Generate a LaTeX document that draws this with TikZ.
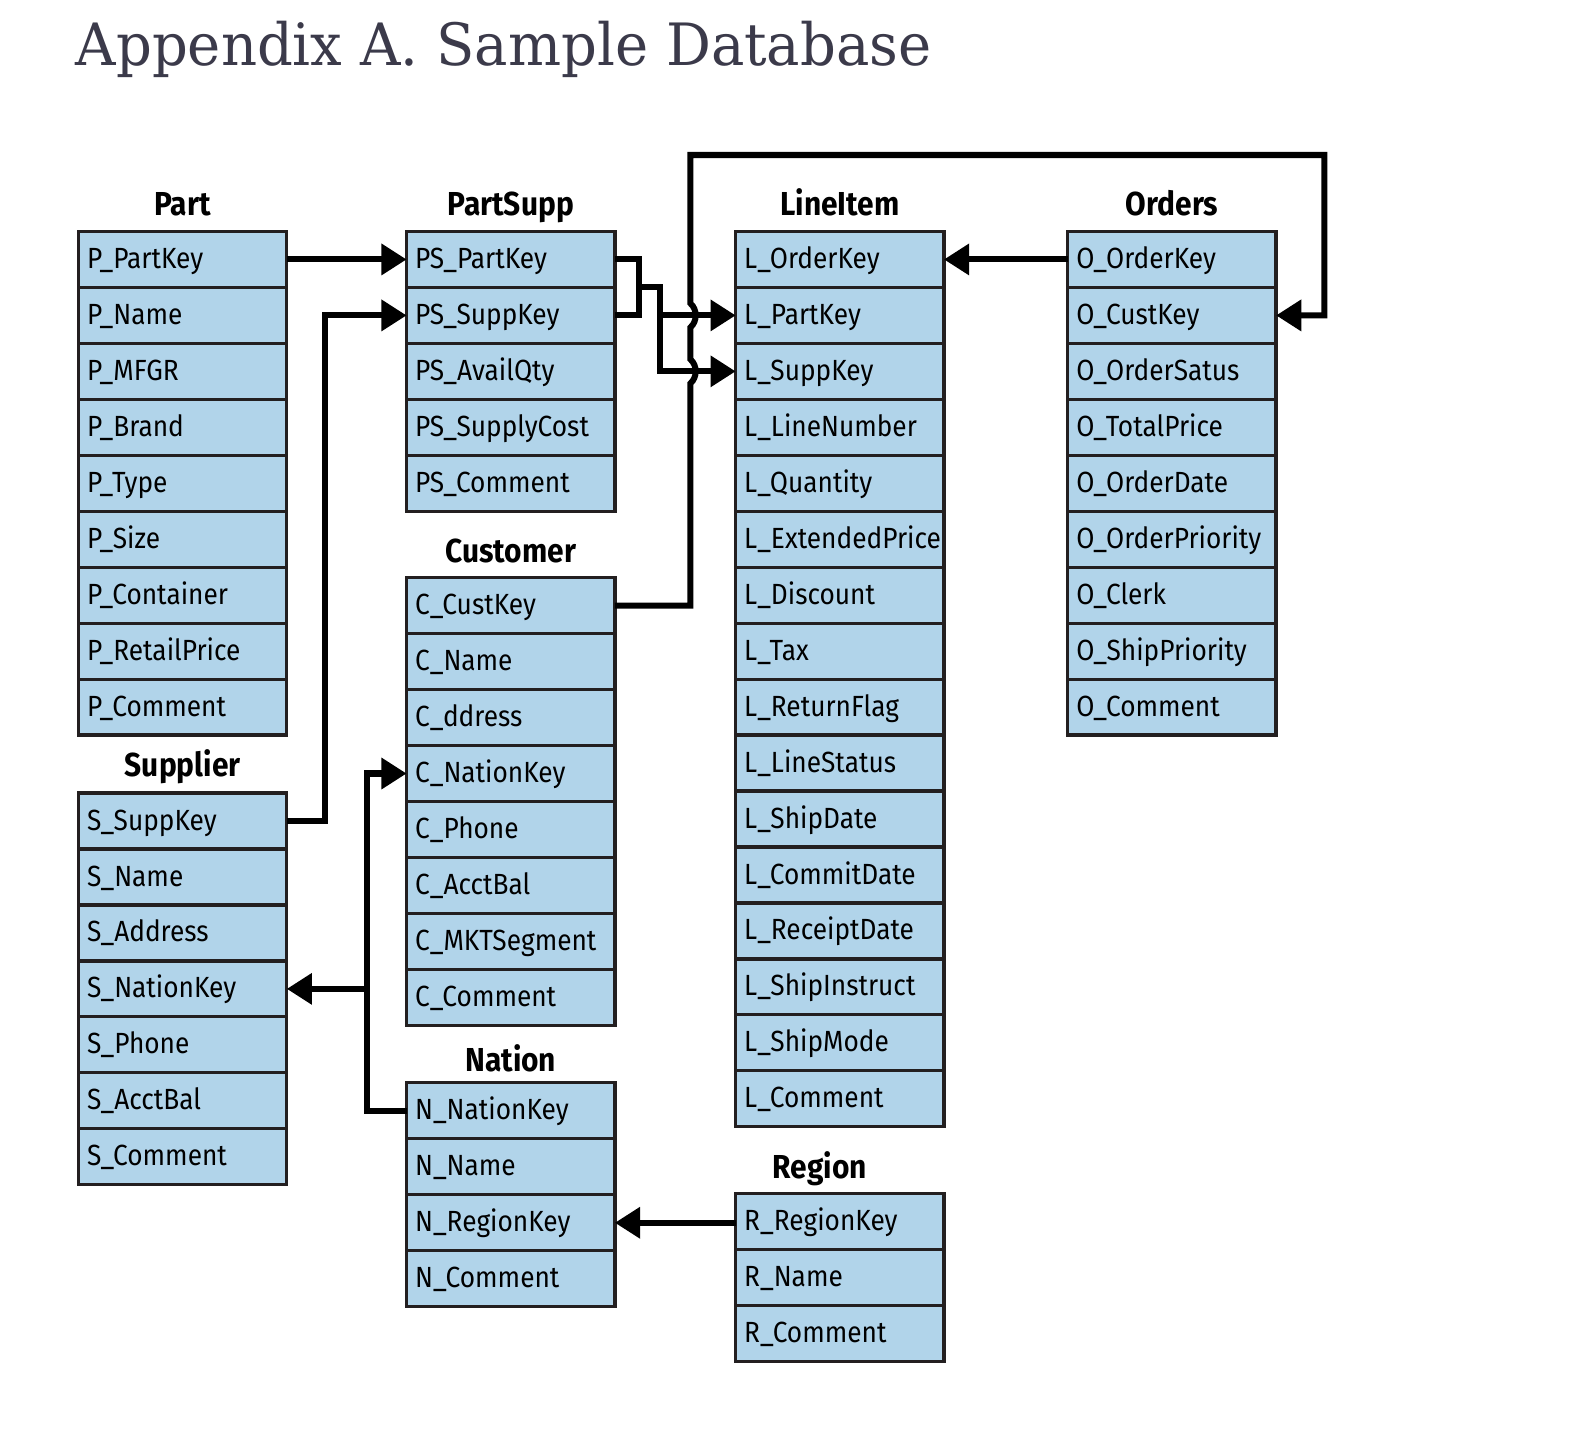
\documentclass[tikz,border=0pt]{standalone}
\usepackage{fontspec}
\setmainfont{Fira Sans}
\newfontfamily\dbfont[FakeStretch=0.9]{Fira Sans}
\newfontfamily\headfont[FakeStretch=0.96]{DejaVu Serif}
\usetikzlibrary{arrows.meta, positioning, calc}
\definecolor{dbBlue}{HTML}{B1D4EA}
\definecolor{dbLine}{HTML}{231F20}
\definecolor{titleInk}{HTML}{3B3A4A}
\tikzset{
  field/.style={rectangle, draw=dbLine, fill=dbBlue, line width=3.2pt,
                outer sep=0pt, minimum height=55.6pt, text width=190pt,
                text height=22pt, text depth=4pt,
                inner xsep=8.5pt, align=left, anchor=north west,
                font=\dbfont\fontsize{29}{33}\selectfont},
  tabTitle/.style={anchor=base, inner sep=0pt,
                   font=\dbfont\bfseries\fontsize{33}{37}\selectfont},
  arrowK/.style={-{Triangle[length=25pt, width=30pt]}, line width=6pt, black},
  linkK/.style={line width=6pt, black},
}
\begin{document}
\begin{tikzpicture}[x=1pt, y=-1pt]
  \useasboundingbox (0,0) rectangle (1568,1435);
  \node[anchor=base west, inner sep=0pt, text=titleInk,
        font=\headfont\fontsize{58}{64}\selectfont] (apxTitle) at (75,65)
        {Appendix A. Sample Database};

  % tables
  \foreach \f [count=\i] in {P\_PartKey, P\_Name, P\_MFGR, P\_Brand, P\_Type,
      P\_Size, P\_Container, P\_RetailPrice, P\_Comment}
    \node[field] (part-\i) at (78,{230+55.6*(\i-1)}) {\f};
  \foreach \f [count=\i] in {S\_SuppKey, S\_Name, S\_Address, S\_NationKey,
      S\_Phone, S\_AcctBal, S\_Comment}
    \node[field] (sup-\i) at (78,{788+55.6*(\i-1)}) {\f};
  \foreach \f [count=\i] in {PS\_PartKey, PS\_SuppKey, PS\_AvailQty,
      PS\_SupplyCost, PS\_Comment}
    \node[field] (ps-\i) at (404,{230+55.6*(\i-1)}) {\f};
  \foreach \f [count=\i] in {C\_CustKey, C\_Name, C\_ddress, C\_NationKey,
      C\_Phone, C\_AcctBal, C\_MKTSegment, C\_Comment}
    \node[field] (cust-\i) at (404,{574+55.6*(\i-1)}) {\f};
  \foreach \f [count=\i] in {N\_NationKey, N\_Name, N\_RegionKey, N\_Comment}
    \node[field] (nat-\i) at (404,{1076+55.6*(\i-1)}) {\f};
  \foreach \f [count=\i] in {L\_OrderKey, L\_PartKey, L\_SuppKey, L\_LineNumber,
      L\_Quantity, L\_ExtendedPrice, L\_Discount, L\_Tax, L\_ReturnFlag,
      L\_LineStatus, L\_ShipDate, L\_CommitDate, L\_ReceiptDate,
      L\_ShipInstruct, L\_ShipMode, L\_Comment}
    \node[field] (li-\i) at (731,{230+55.6*(\i-1)}) {\f};
  \foreach \f [count=\i] in {R\_RegionKey, R\_Name, R\_Comment}
    \node[field] (reg-\i) at (731,{1186+55.6*(\i-1)}) {\f};
  \foreach \f [count=\i] in {O\_OrderKey, O\_CustKey, O\_OrderSatus,
      O\_TotalPrice, O\_OrderDate, O\_OrderPriority, O\_Clerk,
      O\_ShipPriority, O\_Comment}
    \node[field] (ord-\i) at (1061,{230+55.6*(\i-1)}) {\f};

  % table titles
  \node[tabTitle] (partT) at ([yshift=16pt]part-1.north) {Part};
  \node[tabTitle] (psT) at ([yshift=16pt]ps-1.north) {PartSupp};
  \node[tabTitle] (liT) at ([yshift=16pt]li-1.north) {LineItem};
  \node[tabTitle] (ordT) at ([yshift=16pt]ord-1.north) {Orders};
  \node[tabTitle] (custT) at ([yshift=15pt]cust-1.north) {Customer};
  \node[tabTitle] (supT) at ([yshift=16pt]sup-1.north) {Supplier};
  \node[tabTitle] (natT) at ([yshift=11pt]nat-1.north) {Nation};
  \node[tabTitle] (regT) at ([xshift=-20pt, yshift=15pt]reg-1.north) {Region};

  % keys
  \coordinate (psJoin) at ([xshift=24pt]ps-1.south east);
  \coordinate (psFork) at ([xshift=45pt]ps-1.south east);
  \coordinate (loopTL) at (686,154);
  \coordinate (loopTR) at (1316,154);
  \draw[arrowK] (part-1.east) -- (ps-1.west);
  \draw[arrowK] (sup-1.east) -- ++(38,0) |- (ps-2.west);
  \draw[linkK] (ps-1.east) -| (psJoin) |- (ps-2.east);
  \draw[arrowK] (psJoin) -- (psFork) |- (li-3.west);
  \draw[arrowK] (psFork |- li-2.west) -- (li-2.west);
  \draw[arrowK] (ord-1.west) -- (li-1.east);
  \draw[arrowK] (cust-1.east) -| ($(loopTL |- li-3.west)+(0,12)$)
    .. controls +(7,-6) and +(7,6) .. ++(0,-24)
    -- ($(loopTL |- li-2.west)+(0,12)$)
    .. controls +(7,-6) and +(7,6) .. ++(0,-24)
    -- (loopTL) -- (loopTR) |- (ord-2.east);
  \draw[arrowK] (nat-1.west) -- ++(-39,0) coordinate (nkBus) |- (cust-4.west);
  \draw[arrowK] (nkBus |- sup-4.east) -- (sup-4.east);
  \draw[arrowK] (reg-1.west |- nat-3.east) -- (nat-3.east);
\end{tikzpicture}
\end{document}
